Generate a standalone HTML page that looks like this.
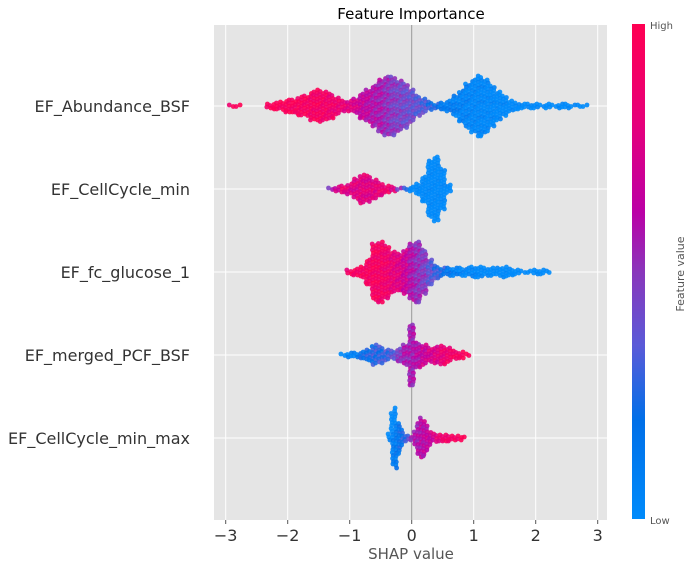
<!DOCTYPE html>
<html><head><meta charset="utf-8"><style>
body{margin:0;background:#fff;width:695px;height:568px;overflow:hidden;font-family:"DejaVu Sans","Liberation Sans",sans-serif}
</style></head><body>
<svg id="chart" width="695" height="568" xmlns="http://www.w3.org/2000/svg">
<defs><linearGradient id="cb" x1="0" y1="1" x2="0" y2="0">
<stop offset="0" stop-color="#008bfb"/><stop offset="0.2" stop-color="#006fe8"/><stop offset="0.35" stop-color="#5a5ad8"/><stop offset="0.5" stop-color="#8a36bb"/><stop offset="0.62" stop-color="#bb00a6"/><stop offset="0.8" stop-color="#e6007a"/><stop offset="1" stop-color="#ff0052"/></linearGradient></defs>
<rect x="214" y="25" width="393" height="495" fill="#e5e5e5"/>
<g id="grid"></g><g id="dots"></g><g id="axes"></g>
<text x="411" y="19" font-size="15" text-anchor="middle" fill="#000">Feature Importance</text>
<text x="411" y="559" font-size="15" text-anchor="middle" fill="#555">SHAP value</text>
<rect x="632" y="24" width="13" height="495" fill="url(#cb)"/>
<text x="650" y="29" font-size="10" fill="#555">High</text>
<text x="650" y="524" font-size="10" fill="#555">Low</text>
<text x="684" y="274" font-size="11" fill="#555" text-anchor="middle" transform="rotate(-90 684 274)">Feature value</text>
</svg>
<script>
const features=["EF_Abundance_BSF","EF_CellCycle_min","EF_fc_glucose_1","EF_merged_PCF_BSF","EF_CellCycle_min_max"];
const xTicks=[-3,-2,-1,0,1,2,3];
// per-feature bins: shap value, half-height (px spread of swarm), mean feature value (0 low .. 1 high)
const f1X=[-2.9,-2.8,-2.3,-2.2,-2.1,-2.0,-1.9,-1.8,-1.7,-1.6,-1.5,-1.4,-1.3,-1.2,-1.1,-1.0,-0.9,-0.8,-0.7,-0.6,-0.5,-0.4,-0.3,-0.2,-0.1,0.0,0.1,0.2,0.3,0.4,0.5,0.6,0.7,0.8,0.9,1.0,1.1,1.2,1.3,1.4,1.5,1.6,1.7,1.8,1.9,2.0,2.1,2.2,2.3,2.4,2.5,2.6,2.7,2.8];
const f1H=[1,1,2,3,4,6,6,9,10,14,16,14,12,8,5,5,7,12,16,20,26,29,29,25,22,16,10,7,4,2,3,5,10,15,22,26,30,26,20,14,10,5,3,2,2,2,1,2,1,2,2,1,1,1];
const f1C=[1,1,1,1,1,1,0.98,0.97,0.96,0.95,0.95,0.93,0.9,0.88,0.85,0.8,0.75,0.7,0.66,0.62,0.6,0.55,0.5,0.48,0.45,0.43,0.4,0.36,0.3,0.22,0.18,0.15,0.12,0.1,0.08,0.06,0.05,0.04,0.03,0.02,0.02,0.01,0,0,0,0,0,0,0,0,0,0,0,0];
const f2X=[-1.3,-1.2,-1.1,-1.0,-0.9,-0.8,-0.7,-0.6,-0.5,-0.4,-0.3,-0.2,-0.1,0.0,0.1,0.2,0.3,0.4,0.5,0.6];
const f2H=[1,2,3,5,10,14,13,9,6,3,2,1,1,2,5,12,28,32,20,4];
const f2C=[0.6,0.75,0.85,0.8,0.8,0.82,0.8,0.82,0.85,0.9,0.8,0.5,0.3,0.05,0,0,0,0,0,0];
const f3X=[-1.0,-0.9,-0.8,-0.7,-0.6,-0.5,-0.4,-0.3,-0.2,-0.1,0.0,0.1,0.2,0.3,0.4,0.5,0.6,0.7,0.8,0.9,1.0,1.1,1.2,1.3,1.4,1.5,1.6,1.7,1.8,1.9,2.0,2.1,2.2];
const f3H=[2,3,5,12,28,30,26,20,18,22,28,30,22,12,6,4,4,4,4,4,5,5,4,4,4,5,3,2,1,1,2,2,1];
const f3C=[0.97,0.97,0.97,0.96,0.95,0.94,0.9,0.85,0.8,0.72,0.62,0.55,0.5,0.4,0.32,0.25,0.15,0.1,0.08,0.06,0.05,0.03,0.02,0.01,0,0,0,0,0,0,0,0,0];
const f4X=[-1.1,-1.0,-0.9,-0.8,-0.7,-0.6,-0.5,-0.4,-0.3,-0.2,-0.1,0.0,0.1,0.2,0.3,0.4,0.5,0.6,0.7,0.8,0.9];
const f4H=[1,2,2,3,5,10,8,5,4,6,10,30,12,10,7,8,9,7,4,3,1];
const f4C=[0.05,0.1,0.15,0.2,0.25,0.3,0.3,0.33,0.4,0.5,0.6,0.6,0.64,0.7,0.75,0.8,0.85,0.9,0.95,0.97,0.97];
const f5X=[-0.35,-0.3,-0.25,-0.2,-0.15,-0.1,-0.05,0.0,0.05,0.1,0.15,0.2,0.25,0.3,0.35,0.4,0.45,0.5,0.55,0.6,0.65,0.7,0.75,0.8,0.85];
const f5H=[4,26,30,16,8,3,2,2,6,16,20,18,12,7,4,4,3,3,3,3,2,2,2,2,1];
const f5C=[0.1,0.12,0.15,0.2,0.25,0.3,0.4,0.6,0.62,0.62,0.64,0.66,0.68,0.7,0.75,0.8,0.85,0.88,0.9,0.93,0.95,0.97,0.98,1,1];
const binW=[0.1,0.1,0.1,0.1,0.05];
const series=[[f1X,f1H,f1C],[f2X,f2H,f2C],[f3X,f3H,f3C],[f4X,f4H,f4C],[f5X,f5H,f5C]];

const NS="http://www.w3.org/2000/svg";
const x0=411.7, unit=62.0, rowY0=106, rowStep=83;
const xs=v=>x0+v*unit;
const ys=i=>rowY0+i*rowStep;
const stops=[[0,[0,139,251]],[0.2,[0,111,232]],[0.35,[90,90,216]],[0.5,[138,54,187]],[0.62,[187,0,166]],[0.8,[230,0,122]],[1,[255,0,82]]];
function col(t){for(let i=1;i<stops.length;i++){if(t<=stops[i][0]){const a=stops[i-1],b=stops[i],f=(t-a[0])/(b[0]-a[0]);return 'rgb('+a[1].map((c,k)=>Math.round(c+(b[1][k]-c)*f)).join(',')+')';}}return 'rgb(255,0,82)';}
function mk(tag,attrs,parent){const e=document.createElementNS(NS,tag);for(const k in attrs)e.setAttribute(k,attrs[k]);parent.appendChild(e);return e;}
const grid=document.getElementById('grid'),dots=document.getElementById('dots'),axes=document.getElementById('axes');
xTicks.forEach(t=>{
  const l=mk('line',{x1:xs(t),x2:xs(t),y1:25,y2:520,stroke:t===0?'#999':'#fff','stroke-width':1},grid);
  
  
  const tk=mk('line',{x1:xs(t),x2:xs(t),y1:520,y2:524,stroke:'#555'},axes);
  
  
  const tx=mk('text',{x:xs(t),y:541,'font-size':16,'text-anchor':'middle',fill:'#333'},axes);
  tx.textContent=(t<0?'\u2212'+(-t):String(t));
  
  
});
features.forEach((f,i)=>{
  const l=mk('line',{x1:214,x2:607,y1:ys(i),y2:ys(i),stroke:'#fff'},grid);
  
  
  const tx=mk('text',{x:190,y:ys(i)+6,'font-size':16,'text-anchor':'end',fill:'#333'},axes);
  tx.textContent=f;
  
  
});
series.forEach((s,i)=>{
  const [X,H,C]=s, w=binW[i]*unit, cy=ys(i);
  const g=mk('g',{},dots);
  
  
  X.forEach((v,j)=>{
    const cx=xs(v), h=H[j];
    const ncol=Math.max(1,Math.round(w/3));
    for(let c=0;c<ncol;c++){
      const px=cx-w/2+w*(c+0.5)/ncol;
      const off=((c+j)%2)*1.5;
      for(let dy=-h;dy<=h+0.01;dy+=3){
        const jit=((j*7+c*3+Math.round(dy))%5)/5;
        const t=Math.min(1,Math.max(0,C[j]+(jit-0.5)*0.2));
        const yy=Math.max(-h,Math.min(h,dy+off));
        const d=mk('circle',{cx:(px+(jit-0.5)*1.5).toFixed(1),cy:(cy+yy).toFixed(1),r:2.4,fill:col(t),'fill-opacity':0.9},g);
        
        
      }
    }
  });
});
</script>
</body></html>
